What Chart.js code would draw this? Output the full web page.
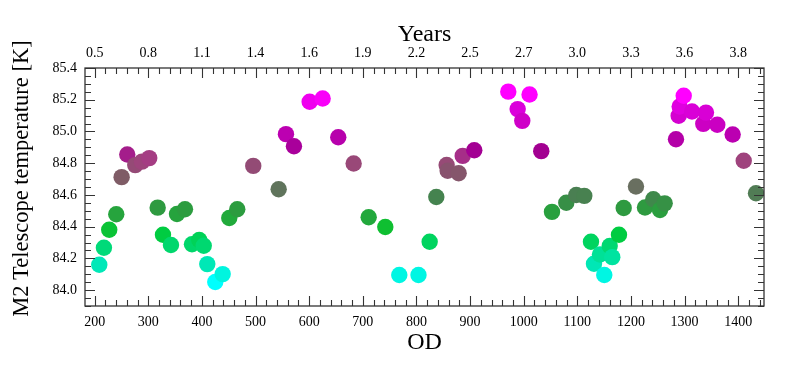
<!DOCTYPE html>
<html><head><meta charset="utf-8">
<script src="https://cdn.jsdelivr.net/npm/chart.js@4.4.0/dist/chart.umd.min.js"></script>
<style>html,body{margin:0;padding:0;background:#fff;}#wrap{width:789px;height:375px;}</style>
</head><body><div id="wrap"><canvas id="c" width="789" height="375"></canvas></div>
<script>
// ---- data ----
const od = [208.6,217.3,227.2,240.3,250.3,260.8,275.7,288.2,301.8,317.5,327.4,342.3,353.5,368.4,381.5,395.0,403.4,410.0,424.9,438.7,451.0,465.9,495.7,543.1,556.7,571.6,600.9,625.1,654.2,682.9,710.9,741.9,768.0,803.8,824.6,837.0,856.3,858.2,878.7,886.2,907.8,971.2,988.7,997.3,1010.9,1032.7,1052.7,1079.4,1098.0,1112.9,1125.4,1131.0,1142.2,1150.2,1160.3,1165.1,1177.6,1186.4,1209.3,1226.1,1241.6,1254.1,1262.8,1283.9,1288.9,1290.8,1298.3,1313.8,1334.8,1339.8,1360.9,1389.6,1410.2,1433.1];
const temperature = [84.160,84.267,84.381,84.478,84.712,84.855,84.788,84.810,84.832,84.520,84.349,84.284,84.480,84.510,84.289,84.316,84.280,84.164,84.051,84.101,84.455,84.510,84.783,84.636,84.983,84.907,85.187,85.208,84.964,84.798,84.459,84.398,84.095,84.095,84.305,84.587,84.789,84.752,84.737,84.846,84.882,85.251,85.141,85.067,85.233,84.876,84.493,84.551,84.600,84.594,84.305,84.166,84.225,84.095,84.278,84.208,84.349,84.518,84.653,84.521,84.573,84.505,84.547,84.951,85.099,85.157,85.225,85.126,85.048,85.119,85.042,84.981,84.815,84.611];
const odTicks = [200,300,400,500,600,700,800,900,1000,1100,1200,1300,1400];
const yearLabels = ['0.5','0.8','1.1','1.4','1.6','1.9','2.2','2.5','2.7','3.0','3.3','3.6','3.8'];
const tempTicks = [84.0,84.2,84.4,84.6,84.8,85.0,85.2,85.4];

// ---- colour map (temperature -> colour) ----
const cmap = [
 [84.05,'#00FFFF'],[84.10,'#00F5E0'],[84.16,'#00E8B8'],[84.22,'#00E29A'],[84.28,'#00D870'],
 [84.35,'#00CC40'],[84.40,'#10BE30'],[84.46,'#22A83C'],[84.52,'#2E9A40'],[84.56,'#3A8C48'],
 [84.60,'#4A7F52'],[84.65,'#687060'],[84.71,'#7F5C66'],[84.76,'#8A5070'],[84.80,'#9A4878'],
 [84.84,'#A83A86'],[84.87,'#A0008F'],[84.95,'#B400A8'],[85.05,'#CC00C4'],[85.15,'#DD00DD'],[85.22,'#FF00FF']
];
function hex(h){return [parseInt(h.substr(1,2),16),parseInt(h.substr(3,2),16),parseInt(h.substr(5,2),16)];}
function colorFor(t){
  if(t<=cmap[0][0]) return cmap[0][1];
  for(let i=1;i<cmap.length;i++){
    if(t<=cmap[i][0]){
      const f=(t-cmap[i-1][0])/(cmap[i][0]-cmap[i-1][0]);
      const a=hex(cmap[i-1][1]),b=hex(cmap[i][1]);
      return 'rgb('+a.map((v,k)=>Math.round(v+(b[k]-v)*f)).join(',')+')';
    }
  }
  return cmap[cmap.length-1][1];
}

const FONT = "'Liberation Serif','Times New Roman',serif";
Chart.defaults.color = '#000';

const frame = {
  id:'frame',
  afterDatasetsDraw(chart){
    const {ctx, chartArea:a, scales} = chart;
    const x = scales.x, y = scales.y;
    ctx.save();
    ctx.strokeStyle = '#333'; ctx.lineWidth = 1.3;
    ctx.strokeRect(a.left, a.top, a.right-a.left, a.bottom-a.top);
    ctx.lineWidth = 1.1;
    ctx.beginPath();
    for(let v=200; v<=x.max; v+=20){
      const px = Math.round(x.getPixelForValue(v))+0.5;
      const len = (v%100===0)?10:6;
      ctx.moveTo(px,a.bottom); ctx.lineTo(px,a.bottom-len);
      ctx.moveTo(px,a.top); ctx.lineTo(px,a.top+len);
    }
    for(let k=0; k<=30; k++){
      const v = 83.9 + k*0.05;
      if(v>y.max+1e-6) break;
      const py = Math.round(y.getPixelForValue(v))+0.5;
      const major = Math.abs(((v-84.0)/0.2) - Math.round((v-84.0)/0.2))<1e-6;
      const len = major?10:6;
      ctx.moveTo(a.left,py); ctx.lineTo(a.left+len,py);
      ctx.moveTo(a.right,py); ctx.lineTo(a.right-len,py);
    }
    ctx.stroke();
    ctx.restore();
  }
};

const setTicks = arr => scale => { scale.ticks = arr.map(v=>({value:v})); };

new Chart(document.getElementById('c'), {
  type:'scatter',
  data:{datasets:[{
    data: od.map((v,i)=>({x:v,y:temperature[i]})),
    backgroundColor: ctx => colorFor(temperature[ctx.dataIndex]),
    pointRadius: 8.2, pointHoverRadius: 8.2, borderWidth: 0
  }]},
  options:{
    responsive:false, animation:false, devicePixelRatio:1,
    layout:{padding:{left:0,right:25,top:0,bottom:0}},
    plugins:{legend:{display:false},tooltip:{enabled:false}},
    scales:{
      x:{type:'linear',position:'bottom',min:182,max:1448,
        afterBuildTicks:setTicks(odTicks),
        afterFit:s=>{s.height=69;},
        grid:{display:false},border:{display:false},
        ticks:{font:{family:FONT,size:14},padding:0,maxRotation:0,autoSkip:false,callback:v=>String(v)},
        title:{display:true,text:'OD',font:{family:FONT,size:24},padding:{top:0,bottom:18}}},
      x2:{type:'linear',position:'top',min:182,max:1448,
        afterBuildTicks:setTicks(odTicks),
        afterFit:s=>{s.height=68;},
        grid:{display:false},border:{display:false},
        ticks:{font:{family:FONT,size:14},padding:-2,maxRotation:0,autoSkip:false,
          callback:(v,i)=>yearLabels[odTicks.indexOf(v)]},
        title:{display:true,text:'Years',font:{family:FONT,size:24},padding:{top:20,bottom:0}}},
      y:{type:'linear',position:'left',min:83.9,max:85.4,
        afterBuildTicks:setTicks(tempTicks),
        afterFit:s=>{s.width=85;},
        grid:{display:false},border:{display:false},
        ticks:{font:{family:FONT,size:14},padding:0,callback:v=>v.toFixed(1)},
        title:{display:true,text:'   M2 Telescope temperature [K]',font:{family:FONT,size:22.5},padding:{top:9,bottom:0}}}
    }
  },
  plugins:[frame]
});
</script></body></html>
